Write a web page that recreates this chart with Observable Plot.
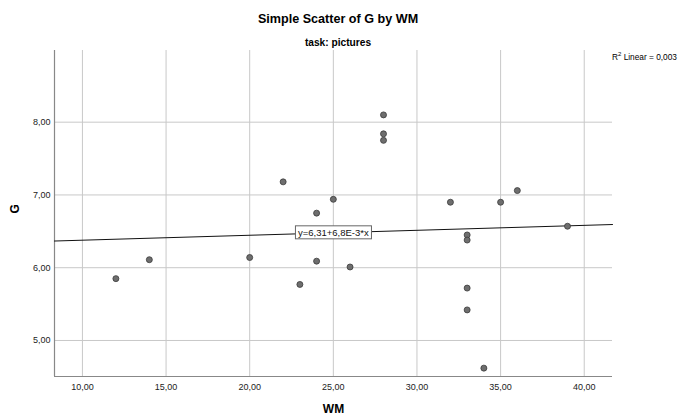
<!DOCTYPE html>
<html>
<head>
<meta charset="utf-8">
<script src="https://cdn.jsdelivr.net/npm/d3@7"></script>
<script src="https://cdn.jsdelivr.net/npm/@observablehq/plot@0.6"></script>
<style>
  html, body { margin: 0; padding: 0; background: #fff; }
  #wrap { position: relative; width: 682px; height: 418px; font-family: "Liberation Sans", Arial, sans-serif; color: #000; }
  .t { position: absolute; white-space: nowrap; }
  #title { left: 338px; top: 12px; transform: translateX(-50%); font-size: 12.6px; font-weight: bold; }
  #subtitle { left: 338px; top: 37px; transform: translateX(-50%); font-size: 10.2px; font-weight: bold; }
  #r2 { left: 612px; top: 52px; font-size: 8.3px; }
  #r2 sup { font-size: 6px; vertical-align: 4px; line-height: 0; }
  svg { display: block; }
</style>
</head>
<body>
<div id="wrap">
  <div class="t" id="title">Simple Scatter of G by WM</div>
  <div class="t" id="subtitle">task: pictures</div>
  <div class="t" id="r2">R<sup>2</sup> Linear = 0,003</div>
</div>
<script>
// Data
const wm = [12, 14, 20, 22, 23, 24, 24, 25, 26, 28, 28, 28, 32, 33, 33, 33, 33, 34, 35, 36, 39];
const g  = [5.85, 6.11, 6.14, 7.18, 5.77, 6.75, 6.09, 6.94, 6.01, 8.10, 7.84, 7.75, 6.90, 6.45, 6.38, 5.72, 5.42, 4.62, 6.90, 7.06, 6.57];
const xTicks = [10, 15, 20, 25, 30, 35, 40];
const yTicks = [5, 6, 7, 8];
const intercept = 6.31;
const slope = 0.0068;
const equationLabel = "y=6,31+6,8E-3*x";
const xTitle = "WM";
const yTitle = "G";

const points = wm.map((x, i) => ({x, y: g[i]}));
const xDomain = [8.33, 41.69];
const yDomain = [4.505, 8.985];
const fitLine = xDomain.map(x => ({x, y: intercept + slope * x}));
const labelX = 25;
const labelPt = [{x: labelX, y: intercept + slope * labelX, text: equationLabel}];
const fmt = d => d.toFixed(2).replace(".", ",");

const chart = Plot.plot({
  width: 682,
  height: 418,
  marginLeft: 54,
  marginRight: 70,
  marginTop: 50,
  marginBottom: 42,
  style: {fontFamily: "'Liberation Sans', Arial, sans-serif", fontSize: "9px", color: "#222", background: "white"},
  x: {domain: xDomain, ticks: xTicks, tickFormat: fmt},
  y: {domain: yDomain, ticks: yTicks, tickFormat: fmt},
  marks: [
    Plot.gridX(xTicks, {stroke: "#c8c8c8", strokeOpacity: 1, strokeWidth: 1}),
    Plot.gridY(yTicks, {stroke: "#c8c8c8", strokeOpacity: 1, strokeWidth: 1}),
    Plot.axisX(xTicks, {tickSize: 0, tickPadding: 7, tickFormat: fmt, label: null, fontSize: 9, fill: "#222"}),
    Plot.axisY(yTicks, {tickSize: 0, tickPadding: 4, tickFormat: fmt, label: null, fontSize: 9, fill: "#222"}),
    Plot.ruleY([yDomain[0]], {stroke: "#888", strokeWidth: 1.2}),
    Plot.ruleX([xDomain[0]], {stroke: "#888", strokeWidth: 1.2}),
    Plot.line(fitLine, {x: "x", y: "y", stroke: "#111", strokeWidth: 1}),
    Plot.dot(points, {x: "x", y: "y", r: 3, fill: "#6e6e6e", stroke: "#3a3a3a", strokeWidth: 0.8}),
    Plot.text(labelPt, {x: "x", y: "y", text: "text", fontSize: 9.5, fill: "#111", className: "eqlabel"}),
    Plot.text([xTitle], {frameAnchor: "bottom", dy: 36, text: d => d, fontSize: 12, fontWeight: "bold", fill: "#000"}),
    Plot.text([yTitle], {frameAnchor: "left", dx: -39, rotate: -90, text: d => d, fontSize: 12, fontWeight: "bold", fill: "#000"})
  ]
});
chart.style.position = "absolute";
chart.style.left = "0";
chart.style.top = "0";
const wrap = document.getElementById("wrap");
wrap.insertBefore(chart, wrap.firstChild);

// white box with grey border behind the equation label
const eq = chart.querySelector(".eqlabel text");
if (eq) {
  const bb = eq.getBBox();
  const rect = document.createElementNS("http://www.w3.org/2000/svg", "rect");
  rect.setAttribute("x", bb.x - 2.5);
  rect.setAttribute("y", bb.y - 1);
  rect.setAttribute("width", bb.width + 5);
  rect.setAttribute("height", bb.height + 2);
  rect.setAttribute("fill", "white");
  rect.setAttribute("stroke", "#666");
  rect.setAttribute("stroke-width", "1");
  const tr = eq.getAttribute("transform");
  if (tr) rect.setAttribute("transform", tr);
  eq.parentNode.insertBefore(rect, eq);
}
</script>
</body>
</html>
